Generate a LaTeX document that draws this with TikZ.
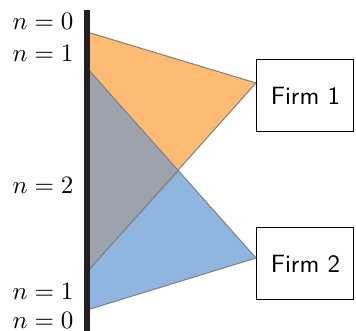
\documentclass[tikz,border=0pt]{standalone}
\usepackage{amsmath}
\usepackage{tikz}
\usepackage{xcolor}
\usetikzlibrary{positioning,calc}
\definecolor{Bar}{HTML}{231F20}
\definecolor{Edge}{HTML}{7F7F7F}
\definecolor{SoftOrange}{HTML}{FDBB74}
\definecolor{SoftBlue}{HTML}{8FB6E0}
\definecolor{Overlap}{HTML}{9DA3AC}

\begin{document}
\begin{tikzpicture}[
  x=0.4pt,y=-0.4pt,
  firm/.style={draw,fill=white,minimum width=38.8pt,minimum height=29pt,inner sep=0pt,font=\sffamily},
  lbl/.style={anchor=east,inner sep=0pt},
  wedge/.style={draw=Edge,line width=0.4pt,line join=round},
  bar/.style={draw=Bar,line width=2.4pt}
]
\useasboundingbox (0,0) rectangle (356,331);
\node[firm] (f1) at (305.5,95.5) {Firm 1};
\node[firm] (f2) at (305.5,263.5) {Firm 2};
\coordinate (o0) at (87,32);
\coordinate (o1) at (87,68);
\coordinate (u1) at (87,272);
\coordinate (u0) at (87,310);
\coordinate (a1) at (256,83);
\coordinate (a2) at (256,258);
\coordinate (x) at (179,172);
\fill[SoftOrange] (o0) -- (a1) -- (u1) -- cycle;
\fill[SoftBlue] (u0) -- (a2) -- (o1) -- cycle;
\fill[Overlap] (o1) -- (x) -- (u1) -- cycle;
\draw[wedge] (o0) -- (a1) -- (u1);
\draw[wedge] (u0) -- (a2) -- (o1);
\draw[bar] (87,10) -- (87,331);
\node[lbl] (n0t) at (74,21) {$n=0$};
\node[lbl] (n1t) at (74,53) {$n=1$};
\node[lbl] (n2) at (74,185) {$n=2$};
\node[lbl] (n1b) at (74,291) {$n=1$};
\node[lbl] (n0b) at (74,320) {$n=0$};
\end{tikzpicture}
\end{document}
